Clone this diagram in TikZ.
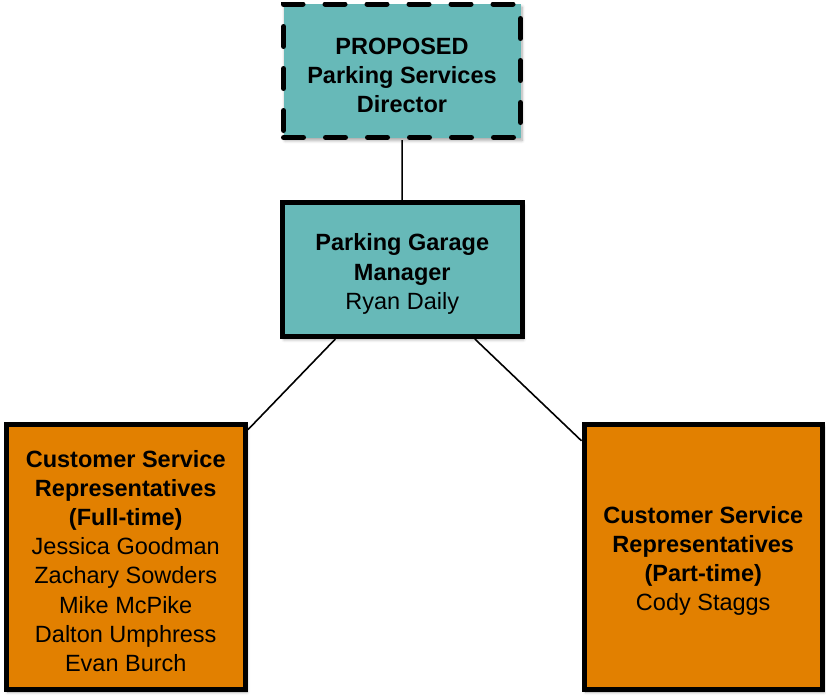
\documentclass[tikz,border=0pt]{standalone}
\usepackage{fontspec}
\setmainfont{Liberation Sans}
\usetikzlibrary{shadows.blur}
\definecolor{teal}{RGB}{103,185,184}
\definecolor{orangebox}{RGB}{226,128,0}
% taller first line, so the block of text sits a little lower in its box
\newcommand{\firstline}{\rule{0pt}{26pt}}
\tikzset{
  box/.style={draw=black, line width=5pt, rectangle, align=center,
    inner sep=0pt, font=\fontsize{23.5}{29.2}\selectfont,
    blur shadow={shadow xshift=1.5pt, shadow yshift=-3pt,
      shadow blur steps=6, shadow blur radius=3pt, shadow opacity=35}},
  tealbox/.style={box, fill=teal},
  orangebx/.style={box, fill=orangebox},
  proposed/.style={dash pattern=on 20pt off 22pt, line cap=round},
  link/.style={draw=black, line width=1.6pt}
}
\begin{document}
\begin{tikzpicture}[x=1pt, y=-1pt]
\useasboundingbox (0,0) rectangle (826,696);

\node[tealbox, proposed, minimum width=237pt, minimum height=133.5pt]
  (dir) at (402,70.75) {\firstline\textbf{PROPOSED}\\\textbf{Parking Services}\\\textbf{Director}};

\node[tealbox, minimum width=239.5pt, minimum height=134pt]
  (mgr) at (402.25,269.5) {\firstline\textbf{Parking Garage}\\\textbf{Manager}\\Ryan Daily};

\node[orangebx, minimum width=239.5pt, minimum height=265pt]
  (full) at (125.75,556.5) {\firstline\textbf{Customer Service}\\\textbf{Representatives}\\\textbf{(Full-time)}\\Jessica Goodman\\Zachary Sowders\\Mike McPike\\Dalton Umphress\\Evan Burch};

\node[orangebx, minimum width=238.5pt, minimum height=265pt]
  (part) at (703.25,556.5) {\firstline\textbf{Customer Service}\\\textbf{Representatives}\\\textbf{(Part-time)}\\Cody Staggs};

\draw[link] (dir) -- (mgr);
\draw[link] (mgr) -- (full);
\draw[link] (mgr) -- (part);
\end{tikzpicture}
\end{document}
